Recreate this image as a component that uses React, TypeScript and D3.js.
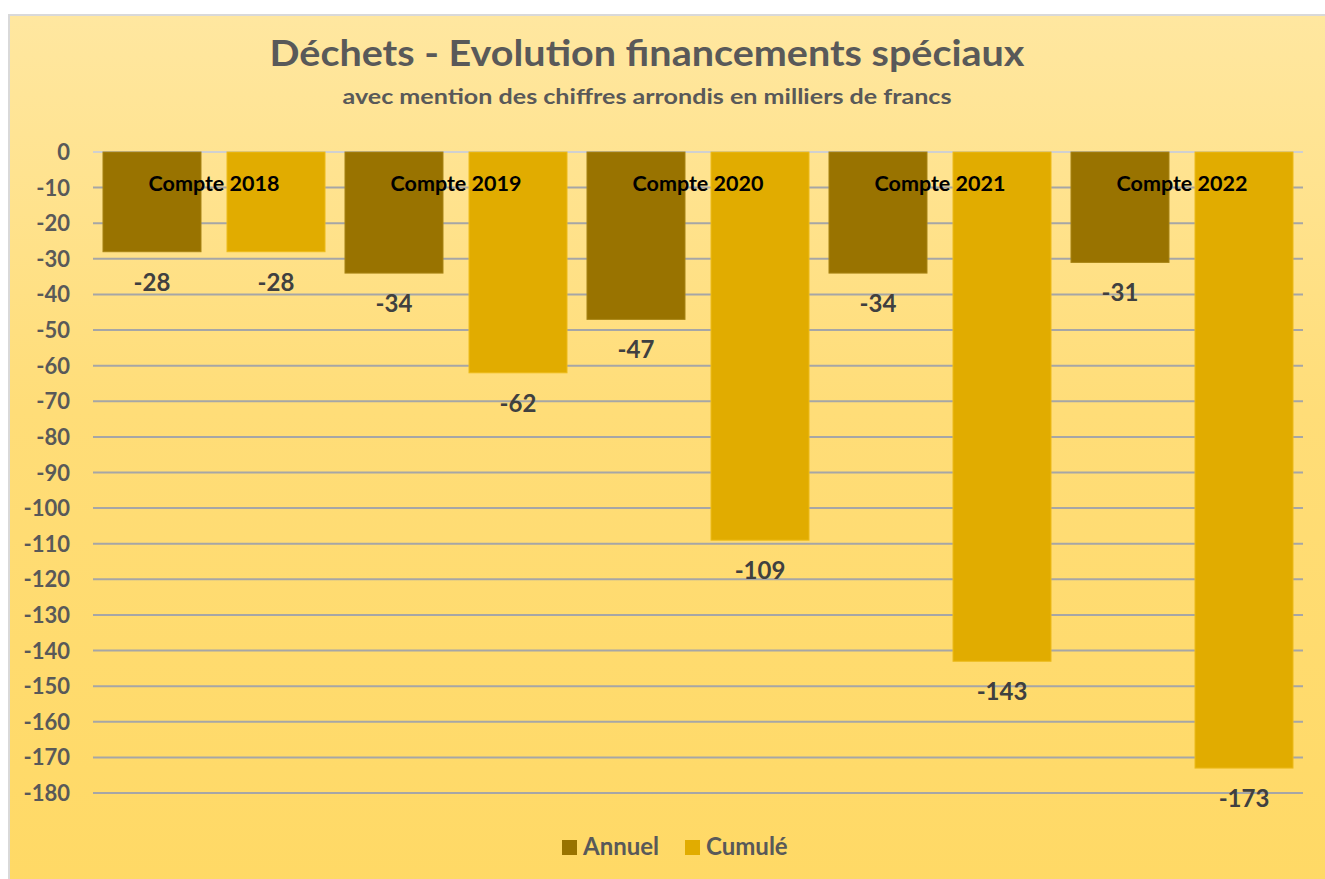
import React from "react";
import * as d3 from "d3";

const categories = ["Compte 2018", "Compte 2019", "Compte 2020", "Compte 2021", "Compte 2022"];
const seriesNames = ["Annuel", "Cumulé"];
const annuel = [-28, -34, -47, -34, -31];
const cumule = [-28, -62, -109, -143, -173];
const yTicks = [0, -10, -20, -30, -40, -50, -60, -70, -80, -90, -100, -110, -120, -130, -140, -150, -160, -170, -180];
const colors = ["#997300", "#E1AC00"];
const strokes = ["#A88414", "#EDBB1A"];

const FONT = "Lato, 'Open Sans', sans-serif";

export default function App() {
  const W = 1325;
  const H = 879;
  const x0 = d3.scaleBand<string>().domain(categories).range([93, 1303]).paddingInner(0).paddingOuter(0);
  const x1 = d3
    .scaleBand<string>()
    .domain(seriesNames)
    .range([0, x0.bandwidth()])
    .paddingInner(0.2097)
    .paddingOuter(0.0806);
  const y = d3.scaleLinear().domain([0, -180]).range([152, 793]);
  const series = [annuel, cumule];

  return (
    <svg width={W} height={H} style={{ display: "block", position: "absolute", left: 0, top: 0 }}>
      <defs>
        <linearGradient id="bg" x1="0" y1="0" x2="0" y2="1">
          <stop offset="0" stopColor="#FFE7A0" />
          <stop offset="0.45" stopColor="#FFDD78" />
          <stop offset="1" stopColor="#FFD965" />
        </linearGradient>
      </defs>
      <rect x={0} y={0} width={W} height={H} fill="#FFFFFF" />
      <rect x={9} y={15} width={1330} height={880} fill="url(#bg)" stroke="#D9D9D9" strokeWidth={2} />
      <text
        x={647}
        y={66}
        textAnchor="middle"
        fontFamily={FONT}
        fontWeight="bold"
        fontSize={37}
        fill="#595959"
        textLength={755}
        lengthAdjust="spacingAndGlyphs"
      >
        Déchets - Evolution financements spéciaux
      </text>
      <text
        x={647}
        y={104}
        textAnchor="middle"
        fontFamily={FONT}
        fontWeight="bold"
        fontSize={21}
        fill="#595959"
        textLength={609}
        lengthAdjust="spacingAndGlyphs"
      >
        avec mention des chiffres arrondis en milliers de francs
      </text>
      {yTicks.map((t) => (
        <g key={t}>
          <line x1={93} x2={1303} y1={y(t)} y2={y(t)} stroke={t === 0 ? "#D0D0D0" : "#A6A6A6"} strokeWidth={2} />
          <text
            x={70}
            y={y(t) + 8}
            textAnchor="end"
            fontFamily={FONT}
            fontWeight="bold"
            fontSize={22}
            fill="#595959"
          >
            {t}
          </text>
        </g>
      ))}
      {categories.map((c, i) => (
        <g key={c} transform={`translate(${x0(c)},0)`}>
          {seriesNames.map((s, j) => {
            const v = series[j][i];
            return (
              <rect
                key={s}
                x={x1(s)}
                y={y(0)}
                width={x1.bandwidth()}
                height={y(v) - y(0)}
                fill={colors[j]}
                stroke={strokes[j]}
                strokeWidth={1}
              />
            );
          })}
        </g>
      ))}
      {categories.map((c, i) => (
        <g key={c + "lab"} transform={`translate(${x0(c)},0)`}>
          <text
            x={x0.bandwidth() / 2}
            y={191}
            textAnchor="middle"
            fontFamily={FONT}
            fontWeight="bold"
            fontSize={21.5}
            fill="#000000"
          >
            {c}
          </text>
          {seriesNames.map((s, j) => {
            const v = series[j][i];
            return (
              <text
                key={s}
                x={(x1(s) as number) + x1.bandwidth() / 2}
                y={y(v) + 39}
                textAnchor="middle"
                fontFamily={FONT}
                fontWeight="bold"
                fontSize={24}
                fill="#404040"
              >
                {v}
              </text>
            );
          })}
        </g>
      ))}
      {seriesNames.map((s, j) => {
        const lx = [562, 685][j];
        return (
          <g key={s}>
            <rect x={lx} y={840} width={15} height={15} fill={colors[j]} />
            <text x={lx + 21} y={855} fontFamily={FONT} fontWeight="bold" fontSize={24} fill="#595959">
              {s}
            </text>
          </g>
        );
      })}
    </svg>
  );
}
